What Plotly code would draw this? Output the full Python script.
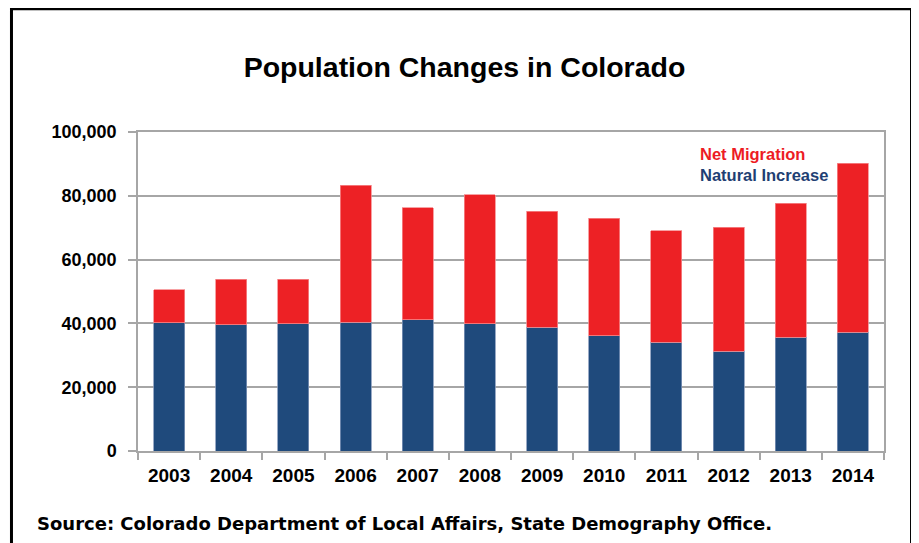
import plotly.graph_objects as go

# -- data
years = ['2003', '2004', '2005', '2006', '2007', '2008',
         '2009', '2010', '2011', '2012', '2013', '2014']
natural_increase = [40200, 39600, 39900, 40300, 41200, 39900,
                    38800, 36100, 34100, 31300, 35600, 37200]
net_migration = [10300, 14200, 13900, 43000, 35100, 40400,
                 36300, 36900, 34900, 38800, 42000, 53000]
y_ticks = [0, 20000, 40000, 60000, 80000, 100000]

red = '#ED2125'
blue = '#1F4A7C'
grey = '#A6A6A6'
font = 'Liberation Sans, Arial, sans-serif'

fig = go.Figure()
fig.add_trace(go.Bar(x=years, y=natural_increase, name='Natural Increase',
                     marker=dict(color=blue, line=dict(color='#7F95B8', width=0.8))))
fig.add_trace(go.Bar(x=years, y=net_migration, name='Net Migration',
                     marker=dict(color=red, line=dict(color='#F58A8C', width=0.8))))

# page has an 8px body margin, so the figure is 8px smaller each way
fig.update_layout(
    barmode='stack',
    bargap=0.5,
    width=911, height=535,
    margin=dict(l=130, r=35, t=124, b=92),
    paper_bgcolor='white', plot_bgcolor='white',
    showlegend=False,
    font=dict(family=font, color='black'),
    title=dict(text='Population Changes in Colorado',
               x=0.5011, y=0.8897, xanchor='center', yanchor='middle',
               font=dict(size=28.5, family=font, color='black', weight='bold')),
)
fig.update_xaxes(type='category', showline=True, mirror=True, linecolor=grey, linewidth=1.5,
                 ticks='outside', tickson='boundaries', ticklen=7, tickcolor=grey, tickwidth=1.5,
                 tickfont=dict(size=19, family=font, color='black', weight='bold'),
                 ticklabelstandoff=6, showgrid=False)
fig.update_yaxes(range=[0, 100000], tickvals=y_ticks, tickformat=',',
                 showline=True, mirror=True, linecolor=grey, linewidth=1.5,
                 ticks='outside', ticklen=8, tickcolor=grey, tickwidth=1.5,
                 ticklabelstandoff=8,
                 tickfont=dict(size=18, family=font, color='black', weight='bold'),
                 showgrid=True, gridcolor=grey, gridwidth=1.5, zeroline=False)

# -- text legend in the top right of the plot
fig.add_annotation(text='<b>Net Migration</b>', xref='paper', yref='paper',
                   x=0.7507, y=0.932, xanchor='left', yanchor='middle', showarrow=False,
                   font=dict(size=16.5, family=font, color='#ED1C24'))
fig.add_annotation(text='<b>Natural Increase</b>', xref='paper', yref='paper',
                   x=0.7507, y=0.866, xanchor='left', yanchor='middle', showarrow=False,
                   font=dict(size=16.5, family=font, color='#1F3F73'))

# -- source note
fig.add_annotation(text='<b>Source: Colorado Department of Local Affairs, State Demography Office.</b>',
                   xref='paper', yref='paper', x=-0.138, y=-0.2274,
                   xanchor='left', yanchor='middle', showarrow=False,
                   font=dict(size=18, family='DejaVu Sans, sans-serif', color='black'))

# -- black frame round the chart (bottom runs off the page)
fig.add_shape(type='rect', xref='paper', yref='paper',
              x0=-0.1696, x1=1.0369, y0=-0.32, y1=1.3865,
              line=dict(color='black', width=3), layer='above')

fig.write_html("out.html")
